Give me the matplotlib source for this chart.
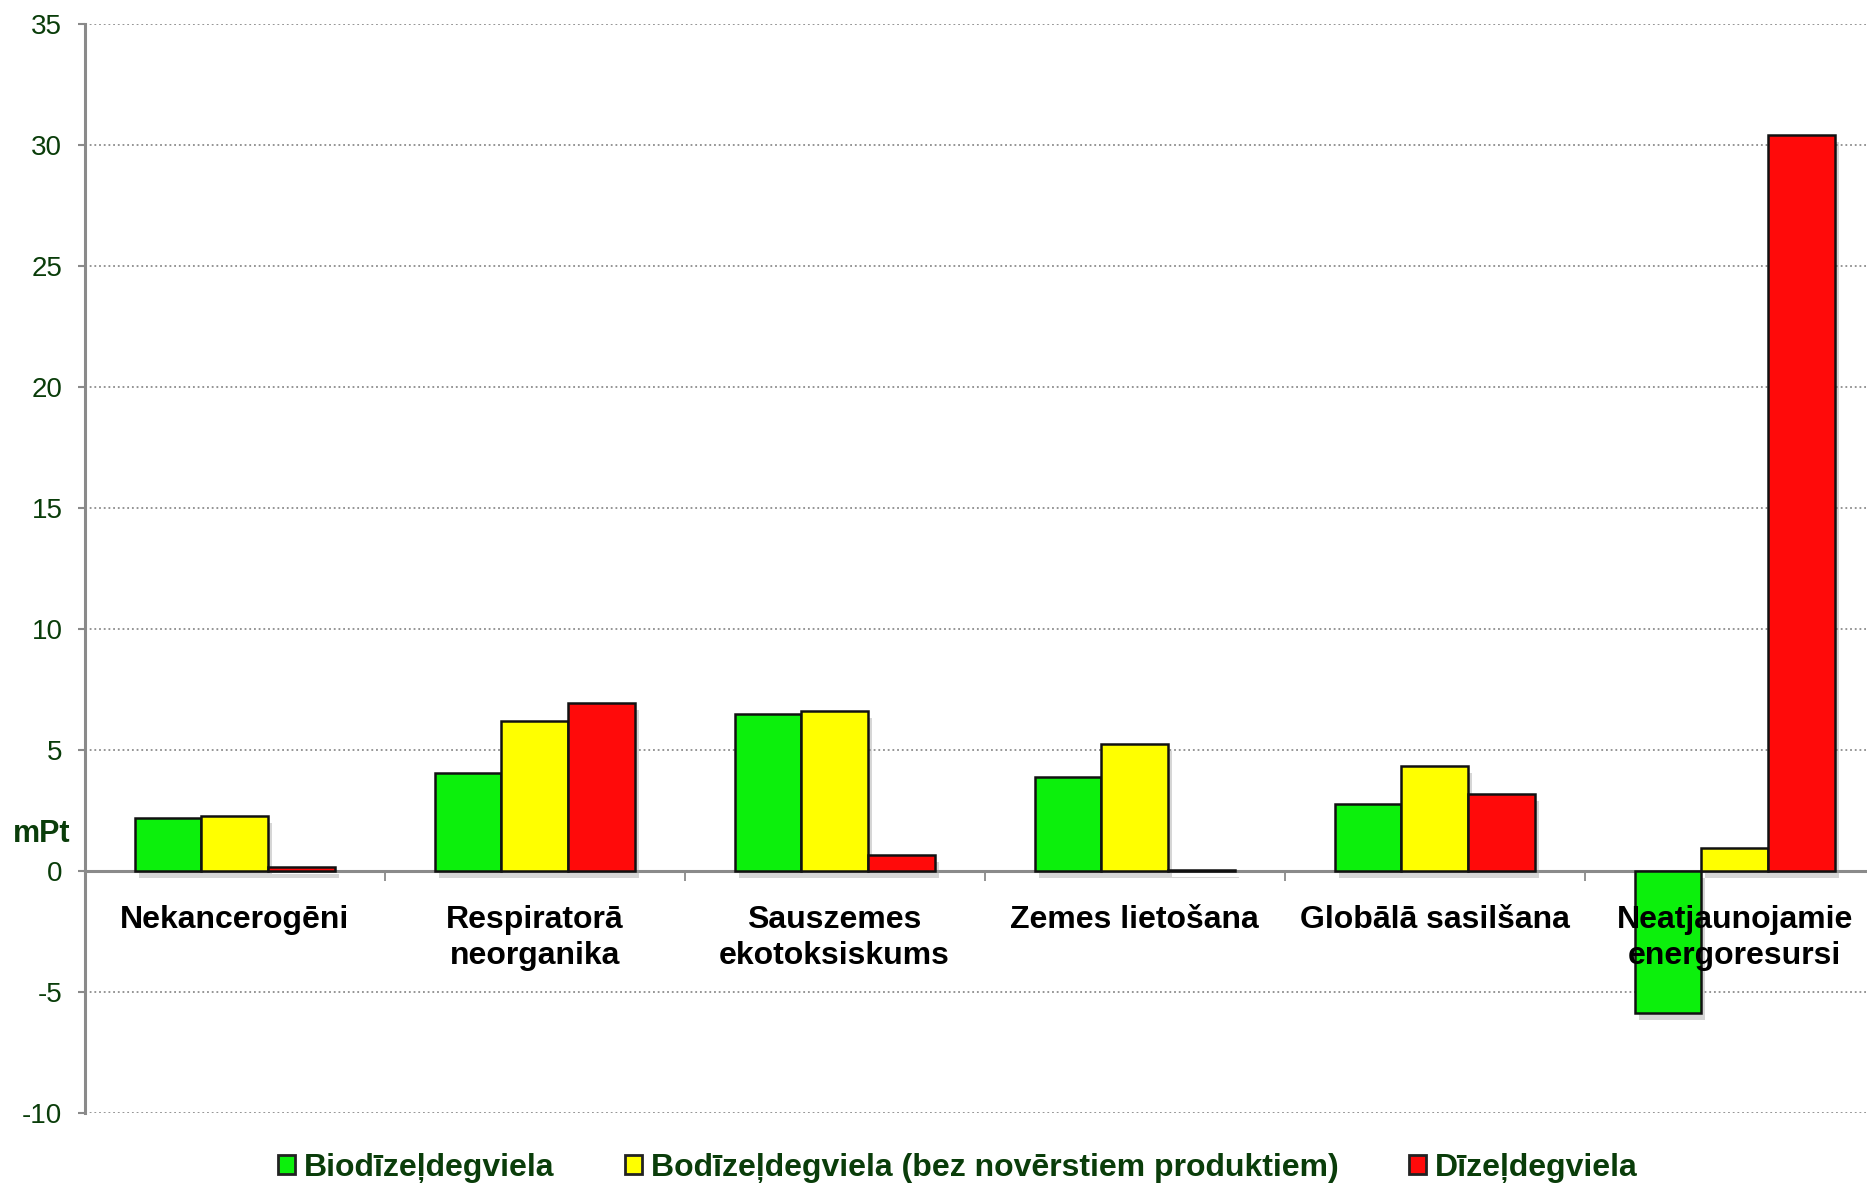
import numpy as np
import matplotlib
matplotlib.use("Agg")
import matplotlib.pyplot as plt
from matplotlib.patches import Patch
import matplotlib.patheffects as pe

plt.rcParams['font.family'] = ['Liberation Sans', 'DejaVu Sans']

# Impact categories and scores (mPt)
categories = [
    "Nekancerogēni",
    "Respiratorā\nneorganika",
    "Sauszemes\nekotoksiskums",
    "Zemes lietošana",
    "Globālā sasilšana",
    "Neatjaunojamie\nenergoresursi",
]
series_names = [
    "Biodīzeļdegviela",
    "Bodīzeļdegviela (bez novērstiem produktiem)",
    "Dīzeļdegviela",
]
biodiesel = [2.19, 4.02, 6.48, 3.87, 2.77, -5.87]
biodiesel_no_avoided = [2.27, 6.17, 6.61, 5.25, 4.32, 0.93]
diesel = [0.14, 6.94, 0.63, 0.03, 3.17, 30.41]
y_ticks = [-10, -5, 0, 5, 10, 15, 20, 25, 30, 35]

colors = ["#0cf00c", "#ffff00", "#ff0a0a"]
text_green = "#0a3d0a"
axis_grey = "#8a8a8a"

W, H = 1867, 1186
fig = plt.figure(figsize=(W / 100, H / 100), dpi=100)
ax = fig.add_axes([84.6 / W, 1 - 1112.7 / H, 1800 / W, (1112.7 - 23.7) / H])

x = np.arange(len(categories))
bw = 0.2222
shadow = [pe.SimplePatchShadow(offset=(3, -5), shadow_rgbFace="#9a9a9a", alpha=0.4), pe.Normal()]
for k, vals in enumerate([biodiesel, biodiesel_no_avoided, diesel]):
    bars = ax.bar(x + (k - 1) * bw, vals, width=bw, color=colors[k],
                  edgecolor="#111111", linewidth=1.8, zorder=3)
    for b in bars:
        b.set_path_effects(shadow)

ax.set_xlim(-0.5, 5.5)
ax.set_ylim(-10, 35)
ax.set_yticks(y_ticks)
ax.set_yticklabels([str(t) for t in y_ticks])
ax.tick_params(axis='y', length=5, width=1.5, color=axis_grey, labelcolor=text_green,
               labelsize=20, pad=11)
ax.yaxis.grid(True, linestyle=(0, (1, 1.6)), color="#8c8c8c", linewidth=1.3, zorder=0)
ax.set_axisbelow(True)

for s in ("top", "right"):
    ax.spines[s].set_visible(False)
ax.spines['left'].set_color(axis_grey)
ax.spines['left'].set_linewidth(2.2)
ax.spines['bottom'].set_position(('data', 0))
ax.spines['bottom'].set_color(axis_grey)
ax.spines['bottom'].set_linewidth(2.2)
ax.spines['bottom'].set_zorder(2)

ax.set_xticks(np.arange(0.5, 5.0, 1.0))
ax.set_xticklabels([])
ax.tick_params(axis='x', length=7, width=1.3, color=axis_grey, direction='out')

for i, name in enumerate(categories):
    ax.annotate(name, xy=(i, 0), xytext=(0, -25), textcoords='offset points',
                ha='center', va='top', fontsize=23, fontweight='bold', color='black',
                multialignment='center', linespacing=1.25, zorder=5, annotation_clip=False)

fig.text(42 / W, 1 - 834 / H, "mPt", ha='center', va='center', fontsize=22,
         fontweight='bold', color=text_green)

handles = [Patch(facecolor=c, edgecolor="#222222", linewidth=2) for c in colors]
leg = fig.legend(handles, series_names, loc='center', bbox_to_anchor=(958 / W, 1 - 1168 / H),
                 ncol=3, frameon=False, fontsize=23, handlelength=0.52, handleheight=0.52,
                 handletextpad=0.3, columnspacing=2.2, borderpad=0)
for t in leg.get_texts():
    t.set_color(text_green)
    t.set_fontweight('bold')

fig.savefig("out.png", dpi=100)
